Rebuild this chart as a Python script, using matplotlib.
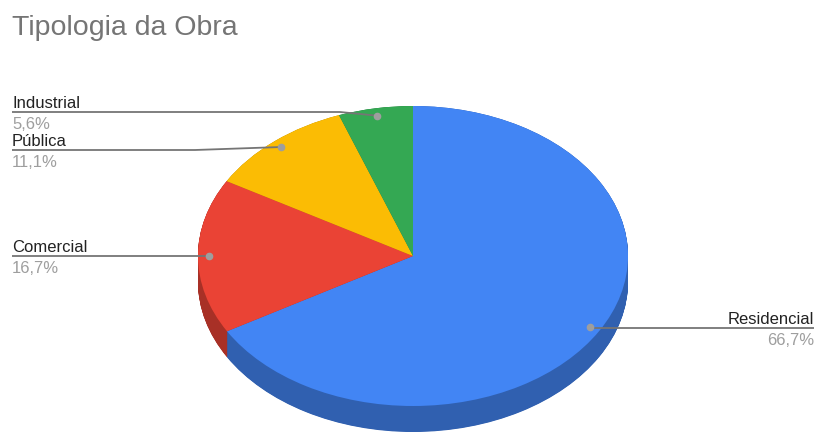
import numpy as np
import matplotlib
matplotlib.use('Agg')
from matplotlib import pyplot as plt
from matplotlib.colors import to_rgb

labels = ['Residencial', 'Comercial', 'Pública', 'Industrial']
values = [66.7, 16.7, 11.1, 5.6]
pct_text = ['66,7%', '16,7%', '11,1%', '5,6%']
colors = ['#4285F4', '#EA4335', '#FBBC04', '#34A853']

W, H = 816, 435
CX, CY = 413, 257      # pie centre, pixels
RX, RY = 215, 150      # ellipse radii, pixels
DEPTH = 26             # side height, pixels


def px(x, y):
    # pixel (from top-left) -> data units of the unit pie
    return (x - CX) / RX, (CY - y) / RY


def darker(c, f=0.72):
    r, g, b = to_rgb(c)
    return (r * f, g * f, b * f)


fig = plt.figure(figsize=(W / 100, H / 100), dpi=100)
ax = fig.add_axes([0, 0, 1, 1])

# side of the 3d pie: stacked copies in darker shades
side_colors = [darker(c) for c in colors]
for k in np.linspace(DEPTH / RY, 0, 60):
    ax.pie(values, colors=side_colors, startangle=90, counterclock=False,
           center=(0, -k), radius=1,
           wedgeprops=dict(linewidth=0.6, edgecolor='none', antialiased=True))
ax.pie(values, colors=colors, startangle=90, counterclock=False,
       center=(0, 0), radius=1, wedgeprops=dict(linewidth=0))

ax.set_aspect('auto')
x0, y0 = px(0, H)
x1, y1 = px(W, 0)
ax.set_xlim(x0, x1)
ax.set_ylim(y0, y1)
ax.axis('off')

# leader lines + labels
# (text x, line y, elbow x or None, alignment) in pixels
layout = {
    'Residencial': (814, 329, None, 'right'),
    'Comercial': (12, 257, None, 'left'),
    'Pública': (12, 151, 195, 'left'),
    'Industrial': (12, 113, 340, 'left'),
}

total = sum(values)
start = 90.0
for lab, v, pt in zip(labels, values, pct_text):
    span = 360.0 * v / total
    mid = np.deg2rad(start - span / 2)
    start -= span
    dx, dy = 0.95 * np.cos(mid), 0.95 * np.sin(mid)
    tx, ly, ex, ha = layout[lab]
    xa, ya = px(tx, ly)
    if ex is None:
        xs = [xa, dx]
        ys = [ya, ya]
    else:
        xe, _ = px(ex, ly)
        xs = [xa, xe, dx]
        ys = [ya, ya, dy]
    ax.plot(xs, ys, color='#757575', lw=1.3, solid_capstyle='butt', zorder=5)
    ax.plot([dx], [dy], 'o', color='#9e9e9e', markersize=4.5, zorder=6)
    _, yn = px(tx, ly - 5)
    _, yp = px(tx, ly + 4)
    ax.text(xa, yn, lab, ha=ha, va='baseline', fontsize=12,
            color='#222222', family='Liberation Sans')
    ax.text(xa, yp, pt, ha=ha, va='top', fontsize=12,
            color='#9e9e9e', family='Liberation Sans')

fig.text(12 / W, 1 - 28 / H, 'Tipologia da Obra', ha='left', va='center',
         fontsize=20.5, color='#757575', family='Liberation Sans')

fig.savefig('out.png', dpi=100)
